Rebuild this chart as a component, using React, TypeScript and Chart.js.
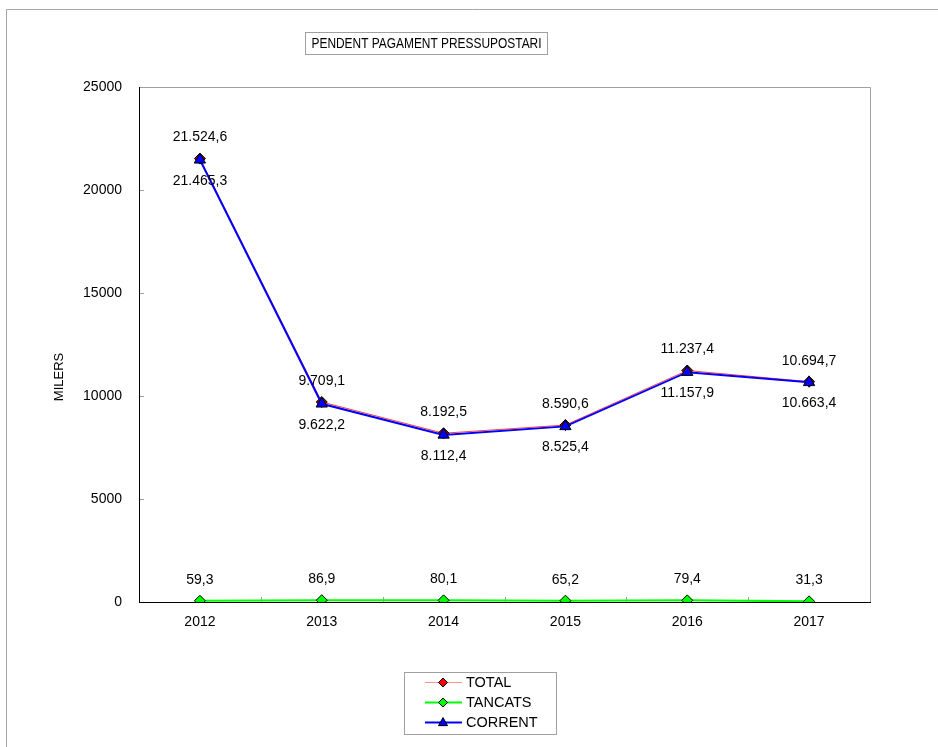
import React, { useEffect, useRef } from "react";
import { Chart, registerables } from "chart.js";

Chart.register(...registerables);

const categories = ["2012", "2013", "2014", "2015", "2016", "2017"];
const totalValues = [21524.6, 9709.1, 8192.5, 8590.6, 11237.4, 10694.7];
const tancatsValues = [59.3, 86.9, 80.1, 65.2, 79.4, 31.3];
const correntValues = [21465.3, 9622.2, 8112.4, 8525.4, 11157.9, 10663.4];
const seriesNames = ["TOTAL", "TANCATS", "CORRENT"];
const yTicks = [0, 5000, 10000, 15000, 20000, 25000];
const chartTitle = "PENDENT PAGAMENT PRESSUPOSTARI";
const yAxisTitle = "MILERS";

const FONT = '"Liberation Sans", Arial, sans-serif';

function fmt(v: number): string {
  const fixed = v.toFixed(1);
  const [intPart, dec] = fixed.split(".");
  const withSep = intPart.replace(/\B(?=(\d{3})+(?!\d))/g, ".");
  return withSep + "," + dec;
}

function drawMarker(ctx: CanvasRenderingContext2D, style: string, x: number, y: number, r: number, fill: string) {
  ctx.save();
  ctx.beginPath();
  if (style === "triangle") {
    ctx.moveTo(x, y - r * 1.1);
    ctx.lineTo(x + r, y + r * 0.7);
    ctx.lineTo(x - r, y + r * 0.7);
  } else {
    ctx.moveTo(x, y - r);
    ctx.lineTo(x + r, y);
    ctx.lineTo(x, y + r);
    ctx.lineTo(x - r, y);
  }
  ctx.closePath();
  ctx.fillStyle = fill;
  ctx.fill();
  ctx.strokeStyle = "#000";
  ctx.lineWidth = 1;
  ctx.stroke();
  ctx.restore();
}

const decorPlugin = {
  id: "decor",
  beforeDraw(chart: any) {
    const { ctx, chartArea } = chart;
    ctx.save();
    ctx.fillStyle = "#fff";
    ctx.fillRect(0, 0, chart.width, chart.height);
    // outer border
    ctx.strokeStyle = "#a6a6a6";
    ctx.lineWidth = 1;
    ctx.beginPath();
    ctx.moveTo(6.5, chart.height);
    ctx.lineTo(6.5, 9.5);
    ctx.lineTo(chart.width, 9.5);
    ctx.stroke();
    // plot area border (top/right gray)
    ctx.strokeStyle = "#a0a0a0";
    ctx.beginPath();
    ctx.moveTo(Math.round(chartArea.left) + 0.5, Math.round(chartArea.top) + 0.5);
    ctx.lineTo(Math.round(chartArea.right) + 0.5, Math.round(chartArea.top) + 0.5);
    ctx.lineTo(Math.round(chartArea.right) + 0.5, Math.round(chartArea.bottom) + 0.5);
    ctx.stroke();
    // inside tick marks
    const xs = chart.scales.x;
    const ys = chart.scales.y;
    ctx.strokeStyle = "#a0a0a0";
    ctx.beginPath();
    for (let i = 1; i < categories.length; i++) {
      const px = Math.round((xs.getPixelForTick(i - 1) + xs.getPixelForTick(i)) / 2) + 0.5;
      ctx.moveTo(px, chartArea.bottom);
      ctx.lineTo(px, chartArea.bottom - 5);
    }
    yTicks.forEach((t) => {
      if (t === 0) return;
      const py = Math.round(ys.getPixelForValue(t)) + 0.5;
      ctx.moveTo(chartArea.left, py);
      ctx.lineTo(chartArea.left + 5, py);
    });
    ctx.stroke();
    ctx.restore();
  },
  afterDraw(chart: any) {
    const { ctx } = chart;
    ctx.save();
    ctx.font = `14px ${FONT}`;
    ctx.fillStyle = "#000";
    ctx.textAlign = "center";
    ctx.textBaseline = "middle";
    // data labels
    const offsets = [-21, -21, 21];
    chart.data.datasets.forEach((ds: any, di: number) => {
      const meta = chart.getDatasetMeta(di);
      meta.data.forEach((pt: any, i: number) => {
        ctx.fillText(fmt(ds.data[i]), pt.x, pt.y + offsets[di]);
      });
    });
    // title box
    ctx.strokeStyle = "#a0a0a0";
    ctx.lineWidth = 1;
    ctx.strokeRect(305.5, 32.5, 242, 22);
    ctx.save();
    ctx.font = `15px ${FONT}`;
    const w = ctx.measureText(chartTitle).width;
    const sx = 230 / w;
    ctx.translate(426.5, 44);
    ctx.scale(sx, 1);
    ctx.fillText(chartTitle, 0, 0);
    ctx.restore();
    // y axis title
    ctx.save();
    ctx.translate(59, 377);
    ctx.rotate(-Math.PI / 2);
    ctx.font = `13px ${FONT}`;
    ctx.fillText(yAxisTitle, 0, 0);
    ctx.restore();
    // legend
    ctx.strokeStyle = "#a0a0a0";
    ctx.strokeRect(404.5, 672.5, 152, 62);
    const rows = [682, 702, 722];
    chart.data.datasets.forEach((ds: any, di: number) => {
      const y = rows[di];
      ctx.strokeStyle = ds.legendLine || ds.borderColor;
      ctx.lineWidth = ds.borderWidth;
      ctx.beginPath();
      ctx.moveTo(425, y + 0.5);
      ctx.lineTo(462, y + 0.5);
      ctx.stroke();
      drawMarker(ctx, ds.pointStyle, 443, y + 0.5, 4.5, ds.legendFill || ds.pointBackgroundColor);
      ctx.fillStyle = "#000";
      ctx.textAlign = "left";
      ctx.font = `14.5px ${FONT}`;
      ctx.fillText(ds.label, 466, y + 1);
    });
    ctx.restore();
  },
};

export default function App() {
  const ref = useRef<HTMLCanvasElement | null>(null);
  useEffect(() => {
    if (!ref.current) return;
    const chart = new Chart(ref.current, {
      type: "line",
      data: {
        labels: categories,
        datasets: [
          {
            label: seriesNames[0],
            data: totalValues,
            borderColor: "#ff4040",
            borderWidth: 1,
            pointStyle: "rectRot",
            pointRadius: 5.5,
            pointBackgroundColor: "#a00000",
            pointBorderColor: "#000",
            pointBorderWidth: 1,
            order: 2,
            legendFill: "#ff0000",
            legendLine: "#ff9090",
          } as any,
          {
            label: seriesNames[1],
            data: tancatsValues,
            borderColor: "#00ff00",
            borderWidth: 2,
            pointStyle: "rectRot",
            pointRadius: 5.5,
            pointBackgroundColor: "#00ff00",
            pointBorderColor: "#000",
            pointBorderWidth: 1,
            order: 1,
          },
          {
            label: seriesNames[2],
            data: correntValues,
            borderColor: "#0000ff",
            borderWidth: 2,
            pointStyle: "triangle",
            pointRadius: 6.5,
            pointBackgroundColor: "#0000ff",
            pointBorderColor: "#000",
            pointBorderWidth: 1,
            order: 0,
          },
        ],
      },
      options: {
        responsive: false,
        animation: false,
        layout: { padding: { top: 87, right: 68, bottom: 0, left: 0 } },
        plugins: {
          legend: { display: false },
          title: { display: false },
          tooltip: { enabled: false },
        },
        elements: { line: { tension: 0 } },
        scales: {
          x: {
            offset: true,
            grid: { display: false },
            border: { display: true, color: "#000", width: 1 },
            ticks: { color: "#000", font: { size: 14, family: FONT }, padding: 4, maxRotation: 0 },
            afterFit: (s: any) => {
              s.height = 145;
            },
          },
          y: {
            min: 0,
            max: 25000,
            grid: { display: false },
            border: { display: true, color: "#000", width: 1 },
            afterBuildTicks: (s: any) => {
              s.ticks = yTicks.map((v) => ({ value: v }));
            },
            ticks: {
              color: "#000",
              font: { size: 14, family: FONT },
              padding: 9,
              callback: (v: any) => String(v),
            },
            afterFit: (s: any) => {
              s.width = 139;
            },
          },
        },
      },
      plugins: [decorPlugin],
    });
    return () => chart.destroy();
  }, []);
  return (
    <div style={{ position: "absolute", left: 0, top: 0, width: 938, height: 747 }}>
      <canvas ref={ref} width={938} height={747} style={{ display: "block" }} />
    </div>
  );
}
